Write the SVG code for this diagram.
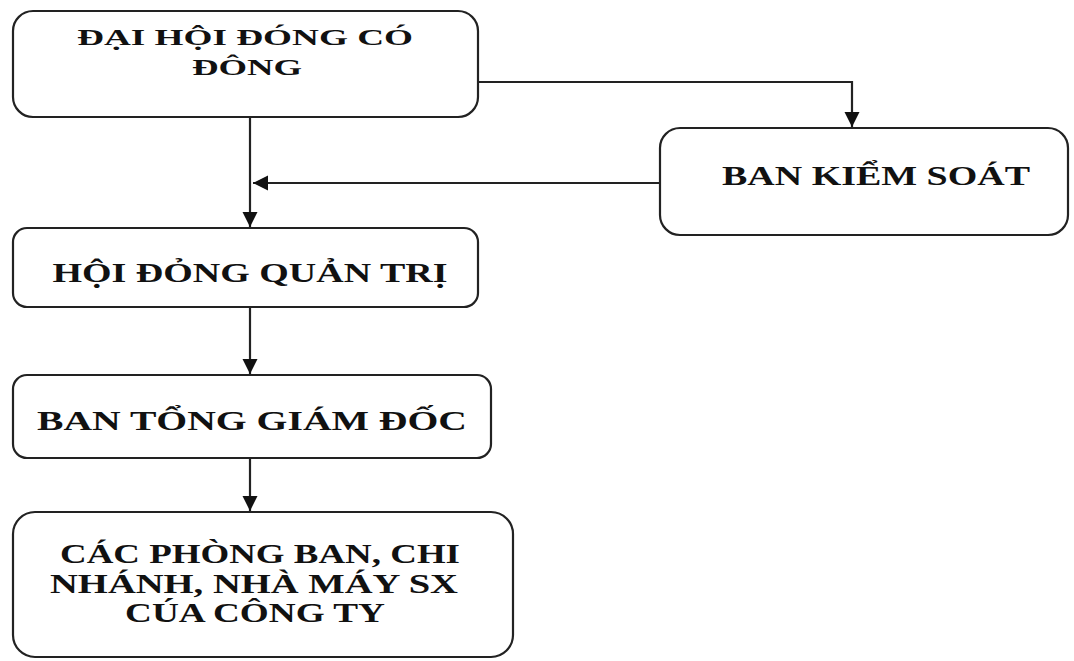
<svg xmlns="http://www.w3.org/2000/svg" width="1074" height="661" viewBox="0 0 1074 661">
<style>
.box{fill:#fff;stroke:#222;stroke-width:2.2}
.t{font-family:"Liberation Serif","Times New Roman",serif;font-weight:bold;font-size:27px;fill:#111;text-anchor:middle}
.s{font-size:24px}
.c{fill:none;stroke:#222;stroke-width:2.2}
</style>
<defs>
<marker id="ah" viewBox="0 0 10 10" refX="10" refY="5" markerWidth="7" markerHeight="7" orient="auto" markerUnits="strokeWidth">
<path d="M0,0 L10,5 L0,10 z" fill="#111"/>
</marker>
</defs>
<rect width="1074" height="661" fill="#fff"/>
<g id="connectors">
<path class="c" d="M478,82 H852 V127" marker-end="url(#ah)"/>
<path class="c" d="M660,183 H253" marker-end="url(#ah)"/>
<path class="c" d="M250,117 V227" marker-end="url(#ah)"/>
<path class="c" d="M250,307 V374" marker-end="url(#ah)"/>
<path class="c" d="M250,458 V511" marker-end="url(#ah)"/>
</g>
<g id="n1">
<rect class="box" x="13" y="11" width="465" height="106" rx="20"/>
<text class="t s" x="245" y="45" textLength="336" lengthAdjust="spacingAndGlyphs">ĐẠI HỘI ĐÓNG CÓ</text>
<text class="t s" x="247" y="75" textLength="110" lengthAdjust="spacingAndGlyphs">ĐÔNG</text>
</g>
<g id="n2">
<rect class="box" x="660" y="128" width="408" height="107" rx="20"/>
<text class="t" x="876" y="185" textLength="308" lengthAdjust="spacingAndGlyphs">BAN KIỂM SOÁT</text>
</g>
<g id="n3">
<rect class="box" x="13" y="228" width="465" height="79" rx="14"/>
<text class="t" x="250" y="282" textLength="395" lengthAdjust="spacingAndGlyphs">HỘI ĐỎNG QUẢN TRỊ</text>
</g>
<g id="n4">
<rect class="box" x="13" y="375" width="478" height="83" rx="14"/>
<text class="t" x="252" y="430" textLength="430" lengthAdjust="spacingAndGlyphs">BAN TỔNG GIÁM ĐỐC</text>
</g>
<g id="n5">
<rect class="box" x="13" y="512" width="500" height="145" rx="22"/>
<text class="t" x="260" y="563" textLength="400" lengthAdjust="spacingAndGlyphs">CÁC PHÒNG BAN, CHI</text>
<text class="t" x="254" y="593" textLength="408" lengthAdjust="spacingAndGlyphs">NHÁNH, NHÀ MÁY SX</text>
<text class="t" x="255" y="622" textLength="260" lengthAdjust="spacingAndGlyphs">CÚA CÔNG TY</text>
</g>
</svg>
